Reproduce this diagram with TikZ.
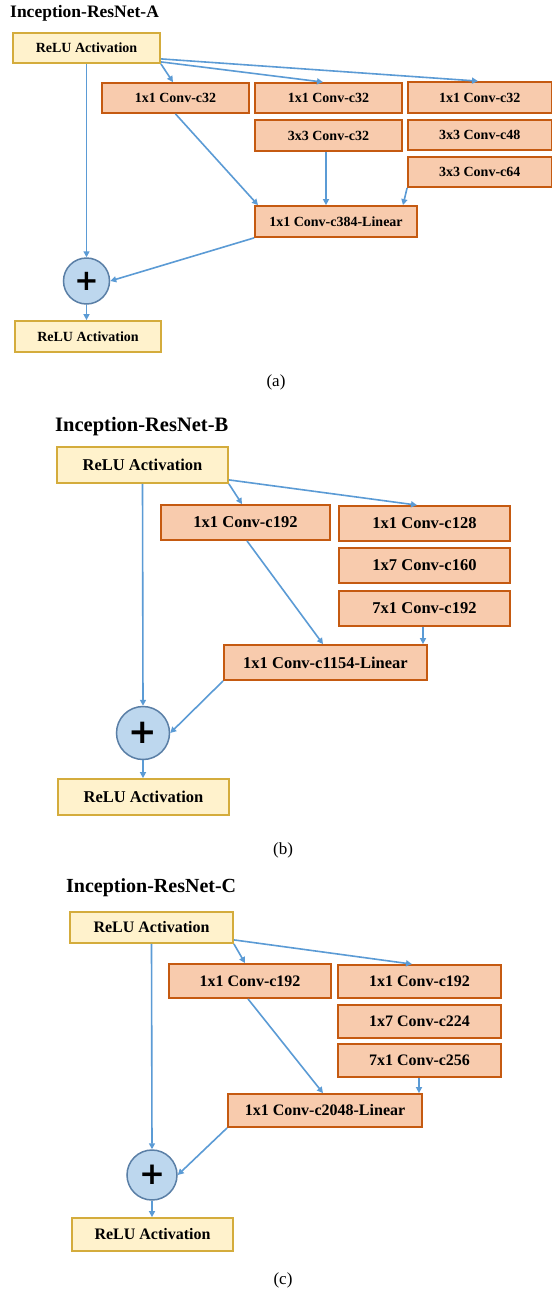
\documentclass[tikz,border=0pt]{standalone}
\usepackage{fontspec}
\setmainfont{Liberation Serif}
\newfontfamily\plusfont{DejaVu Sans}
\usetikzlibrary{arrows.meta,calc}

\definecolor{relufill}{HTML}{FFF2CC}
\definecolor{reluedge}{HTML}{D4AC3C}
\definecolor{convfill}{HTML}{F8CBAD}
\definecolor{convedge}{HTML}{C55A11}
\definecolor{sumfill}{HTML}{BDD7EE}
\definecolor{sumedge}{HTML}{5A7FA6}
\definecolor{linkblue}{HTML}{5B9BD5}

% block given by its corners: name, style, x1, y1, x2, y2, text
\newcommand\blk[7]{%
  \node[#2, minimum width={(#5-#3)*1pt}, minimum height={(#6-#4)*1pt}]
    (#1) at ({(#3+#5)/2},{(#4+#6)/2}) {#7};}

\begin{document}
\begin{tikzpicture}[x=1pt,y=-1pt,
  relu/.style={draw=reluedge, fill=relufill, line width=1.8pt, inner sep=0pt,
               font=\bfseries\boxsize},
  conv/.style={draw=convedge, fill=convfill, line width=1.8pt, inner sep=0pt,
               font=\bfseries\boxsize},
  sumnode/.style={circle, draw=sumedge, fill=sumfill, line width=1.5pt, inner sep=0pt},
  plusmark/.style={inner sep=0pt, text=black},
  link/.style={draw=linkblue, line width=1.6pt, -{Triangle[length=6pt,width=6pt]}},
  title/.style={anchor=west, inner sep=0pt},
  caption/.style={inner sep=0pt, font=\fontsize{17}{19}\selectfont}
]
\fill[white] (0,0) rectangle (553,1293);
\useasboundingbox (0,0) rectangle (553,1293);

% ---------------- Inception-ResNet-A ----------------
\begin{scope}
\def\boxsize{\fontsize{14}{16}\selectfont}
\node[title, font=\bfseries\fontsize{17.5}{19}\selectfont] (tA) at (10,13) {Inception-ResNet-A};
\blk{rA}{relu}{13}{33}{160}{63}{ReLU Activation}
\blk{cA1}{conv}{102}{83}{249}{113}{1x1 Conv-c32}
\blk{cA2}{conv}{255}{83}{402}{113}{1x1 Conv-c32}
\blk{cA3}{conv}{255}{120}{402}{151}{3x3 Conv-c32}
\blk{cA4}{conv}{408}{82}{551.5}{113}{1x1 Conv-c32}
\blk{cA5}{conv}{408}{120}{551.5}{150}{3x3 Conv-c48}
\blk{cA6}{conv}{408}{157}{551.5}{187}{3x3 Conv-c64}
\blk{lA}{conv}{255}{206}{417}{237}{1x1 Conv-c384-Linear}
\node[sumnode, minimum size=46pt,
      label={[plusmark, font=\plusfont\bfseries\fontsize{29}{29}\selectfont]center:+}] (sA) at (86.5,281) {};
\blk{oA}{relu}{15}{321}{161}{352}{ReLU Activation}
\node[caption] (capA) at (276,382) {(a)};

\draw[link] (rA.south east) -- (173,0 |- cA1.north);
\draw[link] ($(rA.south east)+(0,-2)$) -- (323,0 |- cA2.north);
\draw[link] ($(rA.south east)+(0,-5)$) -- (478,0 |- cA4.north);
\draw[link] (rA.south) -- (sA.north);
\draw[link] (cA1.south) -- (258,0 |- lA.north);
\draw[link] (326,0 |- cA3.south) -- (326,0 |- lA.north);
\draw[link] (cA6.south west) -- (403,0 |- lA.north);
\draw[link] (lA.south west) -- (sA.east);
\draw[link] (sA.south) -- (sA.south |- oA.north);
\end{scope}

% ---------------- Inception-ResNet-B ----------------
\begin{scope}
\def\boxsize{\fontsize{16.5}{18}\selectfont}
\node[title, font=\bfseries\fontsize{20.5}{22}\selectfont] (tB) at (55,427) {Inception-ResNet-B};
\blk{rB}{relu}{57}{447}{228}{483}{ReLU Activation}
\blk{cB1}{conv}{161}{505}{330}{540}{1x1 Conv-c192}
\blk{cB2}{conv}{339}{506}{510}{541}{1x1 Conv-c128}
\blk{cB3}{conv}{339}{548}{510}{583}{1x7 Conv-c160}
\blk{cB4}{conv}{339}{591}{510}{626}{7x1 Conv-c192}
\blk{lB}{conv}{224}{645}{427}{680}{1x1 Conv-c1154-Linear}
\node[sumnode, minimum size=53pt,
      label={[plusmark, font=\plusfont\bfseries\fontsize{34}{34}\selectfont]center:+}] (sB) at (143,733) {};
\blk{oB}{relu}{58}{779}{229}{815}{ReLU Activation}
\node[caption] (capB) at (283,850) {(b)};

\draw[link] (rB.south east) -- (242,0 |- cB1.north);
\draw[link] ($(rB.south east)+(0,-4)$) -- (417,0 |- cB2.north);
\draw[link] (rB.south) -- (sB.north);
\draw[link] (247,0 |- cB1.south) -- (323,0 |- lB.north);
\draw[link] (423,0 |- cB4.south) -- (423,0 |- lB.north);
\draw[link] (lB.south west) -- (sB.east);
\draw[link] (sB.south) -- (sB.south |- oB.north);
\end{scope}

% ---------------- Inception-ResNet-C ----------------
\begin{scope}
\def\boxsize{\fontsize{16}{18}\selectfont}
\node[title, font=\bfseries\fontsize{20}{22}\selectfont] (tC) at (66,888) {Inception-ResNet-C};
\blk{rC}{relu}{70}{912}{233}{943}{ReLU Activation}
\blk{cC1}{conv}{169}{964}{331}{998}{1x1 Conv-c192}
\blk{cC2}{conv}{338}{965}{501}{998}{1x1 Conv-c192}
\blk{cC3}{conv}{338}{1005}{501}{1038}{1x7 Conv-c224}
\blk{cC4}{conv}{338}{1044}{501}{1077}{7x1 Conv-c256}
\blk{lC}{conv}{228}{1094}{422}{1127}{1x1 Conv-c2048-Linear}
\node[sumnode, minimum size=50pt,
      label={[plusmark, font=\plusfont\bfseries\fontsize{31}{31}\selectfont]center:+}] (sC) at (152,1175) {};
\blk{oC}{relu}{72}{1218}{233}{1251}{ReLU Activation}
\node[caption] (capC) at (283,1280) {(c)};

\draw[link] (rC.south east) -- (245,0 |- cC1.north);
\draw[link] ($(rC.south east)+(0,-4)$) -- (412,0 |- cC2.north);
\draw[link] (rC.south) -- (sC.north);
\draw[link] (248,0 |- cC1.south) -- (323,0 |- lC.north);
\draw[link] (419,0 |- cC4.south) -- (419,0 |- lC.north);
\draw[link] (lC.south west) -- (sC.east);
\draw[link] (sC.south) -- (sC.south |- oC.north);
\end{scope}
\end{tikzpicture}
\end{document}
